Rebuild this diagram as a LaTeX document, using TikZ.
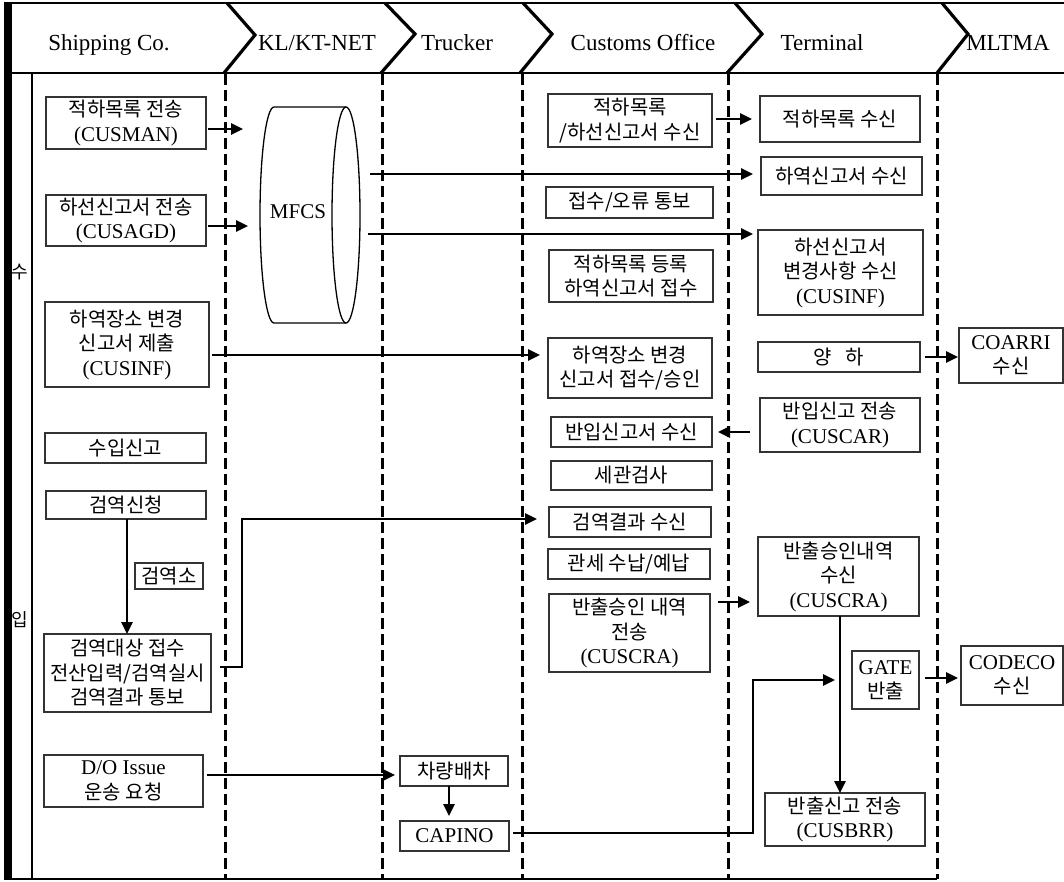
\documentclass[tikz,border=0pt]{standalone}
\usepackage{fontspec}
\setmainfont{Liberation Serif}
\newfontfamily\krfont[Scale=0.95]{Noto Sans CJK KR}
\newcommand\kr[1]{{\krfont #1}}
\usetikzlibrary{arrows.meta}
\tikzset{
  bx/.style={draw=black!80, line width=1.3pt, inner sep=0pt, outer sep=0pt, align=center,
    font=\fontsize{21}{24.5}\selectfont},
  arr/.style={line width=2.6pt, -{Triangle[length=12pt,width=11pt]}},
  lane/.style={line width=3pt, dash pattern=on 11pt off 5pt},
  chev/.style={line width=3.2pt, line join=miter},
  frame/.style={line width=2.2pt},
  hdr/.style={anchor=base, inner sep=0pt, font=\fontsize{23}{27}\selectfont},
}
\newcommand\bx[6]{\node[bx, minimum width={#3-#2}, minimum height={#5-#4}] (#1) at ({(#2+#3)/2},{(#4+#5)/2}) {#6};}
\begin{document}
\begin{tikzpicture}[x=1pt,y=-1pt]
\useasboundingbox (0,0) rectangle (1064,881);
% frame
\draw[frame] (4,3) -- (1064,3);
\draw[frame] (4,73) -- (1064,73);
\draw[frame] (4,879) -- (937,879);
\fill (4,2) rectangle (12,880);
\draw[line width=1.6pt] (32,73) -- (32,879);
\foreach \x in {225,382,522,728,937} \draw[lane] (\x,74) -- (\x,879);
% chevrons
\draw[chev] (227,3) -- (255,35) -- (224,73);
\draw[chev] (385,3) -- (415,34) -- (381,73);
\draw[chev] (523,3) -- (552,34) -- (520,73);
\draw[chev] (735,3) -- (762,34) -- (727,73);
\draw[chev] (942,3) -- (968,34) -- (937,73);
% headers
\node[hdr] (h1) at (109,50) {Shipping Co.};
\node[hdr] (h2) at (317,50) {KL/KT-NET};
\node[hdr] (h3) at (457,50) {Trucker};
\node[hdr] (h4) at (643,50) {Customs Office};
\node[hdr] (h5) at (822,50) {Terminal};
\node[hdr] (h6) at (1008,50) {MLTMA};
% side label
\node[font=\fontsize{19}{21}\selectfont, inner sep=0pt] (v1) at (20,272) {\kr{수}};
\node[font=\fontsize{19}{21}\selectfont, inner sep=0pt] (v2) at (20,620) {\kr{입}};
% MFCS cylinder
\draw[line width=1.3pt] (346,107) -- (274,107) arc[start angle=270, end angle=90, x radius=14, y radius=108] -- (346,323);
\draw[line width=1.3pt] (346,215) ellipse [x radius=14, y radius=108];
\coordinate (mfcsL) at (260,215);
\coordinate (mfcsR) at (360,215);
\node[font=\fontsize{21}{24}\selectfont, inner sep=0pt] (mfcs) at (298,212) {MFCS};
% shipping co.
\bx{cusman}{46}{206}{97}{149}{\kr{적하목록 전송}\\(CUSMAN)}
\bx{cusagd}{46}{206}{195}{246}{\kr{하선신고서 전송}\\(CUSAGD)}
\bx{cusinfa}{45}{209}{302}{387}{\kr{하역장소 변경}\\\kr{신고서 제출}\\(CUSINF)}
\bx{suip}{45}{206}{433}{463}{\kr{수입신고}}
\bx{gyeok}{46}{206}{491}{519}{\kr{검역신청}}
\bx{gyeokso}{135}{203}{563}{589}{\kr{검역소}}
\bx{gyeokdae}{44}{211}{634}{712}{\kr{검역대상 접수}\\\kr{전산입력/검역실시}\\\kr{검역결과 통보}}
\bx{dox}{44}{203}{755}{807}{D/O Issue\\\kr{운송 요청}}
% trucker
\bx{truck}{400}{508}{756}{786}{\kr{차량배차}}
\bx{capino}{400}{509}{821}{851}{CAPINO}
% customs
\bx{ca}{548}{712}{94}{147}{\kr{적하목록}\\\kr{/하선신고서 수신}}
\bx{cb}{546}{713}{187}{218}{\kr{접수/오류 통보}}
\bx{cc}{549}{713}{250}{302}{\kr{적하목록 등록}\\\kr{하역신고서 접수}}
\bx{cd}{548}{712}{338}{398}{\kr{하역장소 변경}\\\kr{신고서 접수/승인}}
\bx{ce}{551}{712}{417}{447}{\kr{반입신고서 수신}}
\bx{cf}{551}{712}{461}{490}{\kr{세관검사}}
\bx{cg}{549}{711}{507}{537}{\kr{검역결과 수신}}
\bx{ch}{548}{710}{549}{579}{\kr{관세 수납/예납}}
\bx{ci}{549}{710}{594}{672}{\kr{반출승인 내역}\\\kr{전송}\\(CUSCRA)}
% terminal
\bx{ta}{760}{920}{96}{142}{\kr{적하목록 수신}}
\bx{tb}{761}{922}{157}{195}{\kr{하역신고서 수신}}
\bx{tc}{758}{923}{230}{315}{\kr{하선신고서}\\\kr{변경사항 수신}\\(CUSINF)}
\bx{td}{758}{920}{342}{372}{\kr{양\hspace{14pt}하}}
\bx{te}{760}{920}{398}{452}{\kr{반입신고 전송}\\(CUSCAR)}
\bx{tf}{758}{919}{537}{616}{\kr{반출승인내역}\\\kr{수신}\\(CUSCRA)}
\bx{gate}{852}{919}{651}{709}{GATE\\\kr{반출}}
\bx{tg}{765}{925}{793}{846}{\kr{반출신고 전송}\\(CUSBRR)}
% MLTMA
\bx{ma}{959}{1063}{328}{383}{COARRI\\\kr{수신}}
\bx{mb}{961}{1063}{646}{705}{CODECO\\\kr{수신}}
% connectors
\draw[arr, shorten <=2pt, shorten >=17pt] (cusman.east |- 0,129) -- (mfcsL |- 0,129);
\draw[arr, shorten <=2pt, shorten >=12pt] (cusagd.east |- 0,226) -- (mfcsL |- 0,226);
\draw[arr, shorten <=10pt, shorten >=8pt] (mfcsR |- 0,174) -- (tb.west |- 0,174);
\draw[arr, shorten <=8pt, shorten >=5pt] (mfcsR |- 0,234) -- (tc.west |- 0,234);
\draw[arr, shorten <=3pt, shorten >=8pt] (cusinfa.east |- 0,355) -- (cd.west |- 0,355);
\draw[arr, shorten <=4pt, shorten >=8pt] (ca.east |- 0,119) -- (ta.west |- 0,119);
\draw[arr, shorten <=5pt, shorten >=1pt] (td.east) -- (ma.west |- td.east);
\draw[arr, shorten <=10pt, shorten >=6pt] (te.west |- 0,432) -- (ce.east |- 0,432);
\draw[arr] (gyeok.south -| 127,0) -- (gyeokdae.north -| 127,0);
\draw[arr, shorten <=9pt, shorten >=12pt] (gyeokdae.east |- 0,667) -- (242,667) -- (242,519) -- (cg.west |- 0,519);
\draw[arr, shorten <=8pt, shorten >=8pt] (ci.east |- 0,602) -- (tf.west |- 0,602);
\draw[arr, shorten <=4pt, shorten >=5pt] (dox.east |- 0,775) -- (truck.west |- 0,775);
\draw[arr, shorten >=5pt] (truck.south -| 449,0) -- (capino.north -| 449,0);
\draw[arr, shorten <=4pt, shorten >=17pt] (capino.east |- 0,833) -- (753,833) -- (753,680) -- (gate.west |- 0,680);
\draw[arr] (tf.south -| 840,0) -- (tg.north -| 840,0);
\draw[arr, shorten <=6pt, shorten >=3pt] (gate.east |- 0,678) -- (mb.west |- 0,678);
\end{tikzpicture}
\end{document}
